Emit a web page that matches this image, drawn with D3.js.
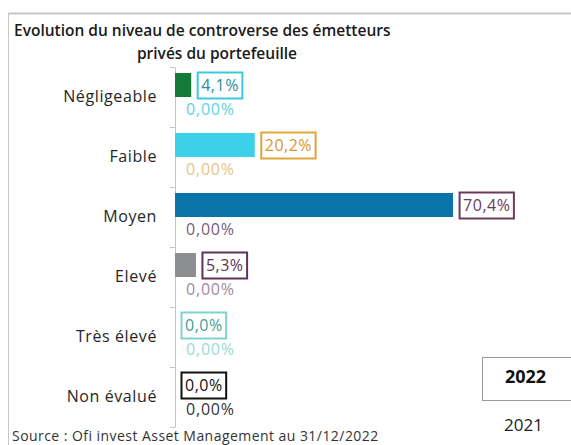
<!DOCTYPE html>
<html>
<head>
<meta charset="utf-8">
<script src="https://cdn.jsdelivr.net/npm/d3@7"></script>
<style>
  body { margin: 0; background: #fff; }
  text { font-family: "Open Sans", sans-serif; }
</style>
</head>
<body>
<div id="chart"></div>
<script>
// data
var categories = ["Négligeable", "Faible", "Moyen", "Elevé", "Très élevé", "Non évalué"];
var years = ["2022", "2021"];
var values2022 = [4.1, 20.2, 70.4, 5.3, 0.0, 0.0];
var values2021 = [0, 0, 0, 0, 0, 0];
var barColors = ["#137a3c", "#3dd0e9", "#0a74a8", "#8b8d8f", "#3dd0e9", "#222"];
var label22Colors = ["#3cc9dd", "#e0a53a", "#6a3a5c", "#5e3355", "#7fd3c9", "#111"];
var text22Colors = ["#2a8c9c", "#d9972a", "#6a3a5c", "#5e3355", "#3e9f95", "#111"];
var label21Colors = ["#5fd3e4", "#e9c487", "#7a5a7a", "#9c8c9c", "#98dbd4", "#333"];

var W = 571, H = 445;
var svg = d3.select("#chart").append("svg")
    .attr("width", W)
    .attr("height", H);

// frame lines
svg.append("line").attr("x1", 8).attr("x2", W).attr("y1", 13.5).attr("y2", 13.5)
    .attr("stroke", "#c8c8c8").attr("stroke-width", 2);
svg.append("line").attr("x1", 8.5).attr("x2", 8.5).attr("y1", 13).attr("y2", H)
    .attr("stroke", "#c8c8c8").attr("stroke-width", 1);

// title
svg.append("text").attr("x", 14).attr("y", 36)
    .text("Evolution du niveau de controverse des émetteurs")
    .style("font-size", "15.5px").style("font-weight", 600).style("fill", "#1a1a1a");
svg.append("text").attr("x", 217).attr("y", 59).attr("text-anchor", "middle")
    .text("privés du portefeuille")
    .style("font-size", "15.5px").style("font-weight", 600).style("fill", "#1a1a1a");

var x0 = 175;
var x = d3.scaleLinear().domain([0, 100]).range([x0, x0 + 395]);
var y = d3.scaleBand().domain(categories).range([67, 427])
    .paddingInner(0.2).paddingOuter(0.1);
var ySub = d3.scaleBand().domain(years).range([0, y.bandwidth()]);

// axis
var axis = svg.append("g").attr("transform", "translate(" + x0 + ",0)")
    .call(d3.axisLeft(y).tickSize(0).tickSizeOuter(0).tickPadding(18));
axis.select(".domain").attr("stroke", "#c4c4c4");
axis.selectAll("text").style("font-size", "16px").style("fill", "#262626")
    .style("letter-spacing", "0.6px")
    .style("font-family", "'Open Sans', sans-serif");

var bounds = d3.range(categories.length + 1).map(function(i) { return y.range()[0] + i * y.step(); });
svg.selectAll(".btick").data(bounds).enter().append("line")
    .attr("class", "btick")
    .attr("x1", x0 - 5).attr("x2", x0)
    .attr("y1", function(d) { return d + 0.5; }).attr("y2", function(d) { return d + 0.5; })
    .attr("stroke", "#c4c4c4");

// bars 2022
svg.selectAll(".bar22").data(values2022).enter().append("rect")
    .attr("class", "bar22")
    .attr("x", x(0))
    .attr("y", function(d, i) { return y(categories[i]) + ySub("2022"); })
    .attr("width", function(d) { return x(d) - x(0); })
    .attr("height", ySub.bandwidth())
    .attr("fill", function(d, i) { return barColors[i]; });

// bars 2021
svg.selectAll(".bar21").data(values2021).enter().append("rect")
    .attr("class", "bar21")
    .attr("x", x(0))
    .attr("y", function(d, i) { return y(categories[i]) + ySub("2021"); })
    .attr("width", function(d) { return x(d) - x(0); })
    .attr("height", ySub.bandwidth())
    .attr("fill", function(d, i) { return barColors[i]; });

// boxed labels 2022
var lab = svg.selectAll(".lab22").data(values2022).enter().append("g").attr("class", "lab22");
lab.each(function(d, i) {
  var g = d3.select(this);
  var cy = y(categories[i]) + ySub("2022") + ySub.bandwidth() / 2;
  var t = g.append("text")
      .attr("x", x(d) + 10)
      .attr("y", cy)
      .attr("dy", "0.35em")
      .text(d.toFixed(1).replace(".", ",") + "%")
      .style("font-size", "16px")
      .style("letter-spacing", "0.5px")
      .style("fill", text22Colors[i]);
  var bb = t.node().getBBox();
  g.insert("rect", "text")
      .attr("x", x(d) + 6.5)
      .attr("y", cy - 12.5)
      .attr("width", bb.width + 7)
      .attr("height", 26)
      .attr("fill", "#fff")
      .attr("stroke", label22Colors[i])
      .attr("stroke-width", 2);
});

// labels 2021
svg.selectAll(".lab21").data(values2021).enter().append("text")
    .attr("class", "lab21")
    .attr("x", function(d) { return x(d) + 11; })
    .attr("y", function(d, i) { return y(categories[i]) + ySub("2021") + ySub.bandwidth() / 2; })
    .attr("dy", "0.35em")
    .text(function(d) { return d.toFixed(2).replace(".", ",") + "%"; })
    .style("font-size", "16px")
    .style("letter-spacing", "0.8px")
    .style("fill", function(d, i) { return label21Colors[i]; });

// legend
svg.append("rect").attr("x", 482.5).attr("y", 357.5).attr("width", 95).attr("height", 43)
    .attr("fill", "#fff").attr("stroke", "#9a9a9a");
svg.append("text").attr("x", 525.5).attr("y", 377).attr("dy", "0.35em").attr("text-anchor", "middle")
    .text(years[0]).style("font-size", "18px").style("font-weight", 700).style("fill", "#111");
svg.append("text").attr("x", 523.5).attr("y", 425).attr("dy", "0.35em").attr("text-anchor", "middle")
    .text(years[1]).style("font-size", "17px").style("fill", "#222");

// source
svg.append("text").attr("x", 12).attr("y", 441)
    .text("Source : Ofi invest Asset Management au 31/12/2022")
    .style("font-size", "14px").style("letter-spacing", "0.45px").style("fill", "#333");
</script>
</body>
</html>
